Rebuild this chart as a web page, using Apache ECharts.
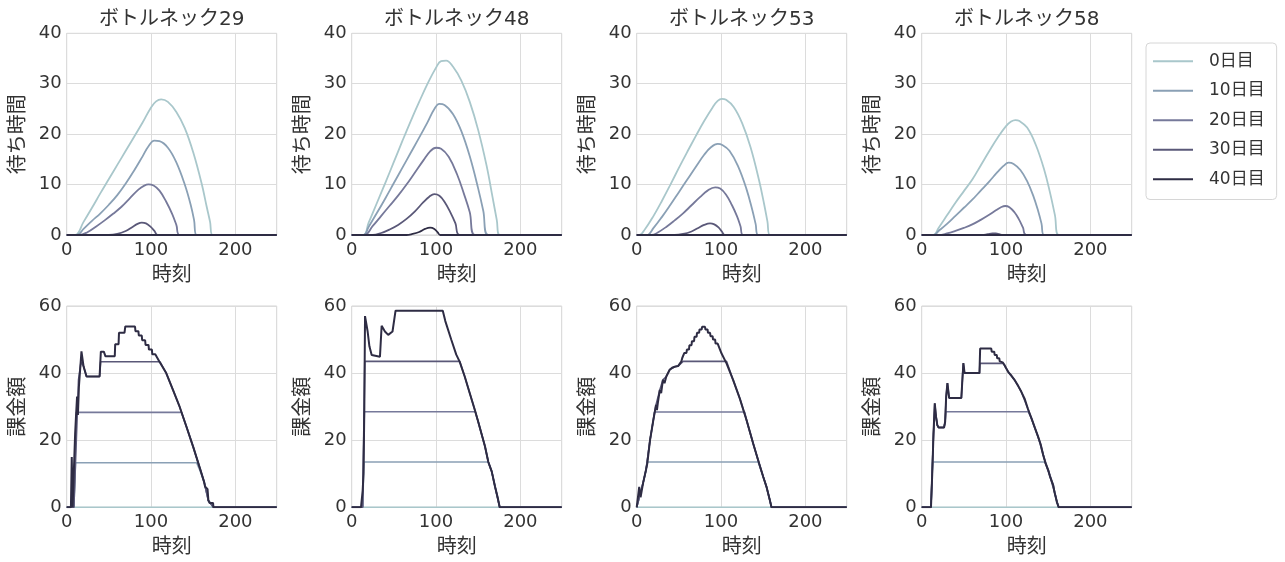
<!DOCTYPE html>
<html><head><meta charset="utf-8">
<script src="https://cdn.jsdelivr.net/npm/echarts@6/dist/echarts.min.js"></script>
<style>html,body{margin:0;padding:0;background:#fff}#c{width:1285px;height:562px}</style>
</head><body><div id="c"></div>
<script>
// ---------- labels ----------
const bottlenecks = ['ボトルネック29', 'ボトルネック48', 'ボトルネック53', 'ボトルネック58'];
const days = ['0日目', '10日目', '20日目', '30日目', '40日目'];
const xName = '時刻';
const waitName = '待ち時間';
const chargeName = '課金額';
const xMax = 249, xStep = 100;
const waitMax = 40, waitStep = 10;
const chargeMax = 60, chargeStep = 20;

// ---------- waiting time [time, value] ----------
const wait29_d0 = [[0,0],[10,0],[20,2.6],[30,5.4],[40,8.3],[50,11.1],[60,13.9],[70,16.7],[80,19.5],[90,22.3],[100,25.3],[106,26.5],[112,26.9],[120,26.4],[130,24.4],[140,21.2],[150,16.4],[160,10.2],[166,5.6],[170,2.6],[173,0],[249,0]];
const wait29_d10 = [[0,0],[12,0],[20,1.2],[30,2.8],[40,4.3],[50,6.0],[60,7.9],[70,10.2],[80,12.8],[90,15.6],[97,17.6],[104,18.7],[110,18.6],[120,17.3],[130,14.4],[140,10.0],[147,6.0],[151,3.0],[154,0],[249,0]];
const wait29_d20 = [[0,0],[15,0],[25,0.6],[35,1.7],[45,2.9],[55,4.2],[65,5.6],[75,7.3],[85,9.0],[92,9.8],[97,10.05],[103,9.8],[110,8.8],[118,6.6],[125,4.2],[130,2.0],[134,0],[249,0]];
const wait29_d30 = [[0,0],[50,0],[60,0.2],[70,0.8],[78,1.6],[84,2.2],[89,2.45],[94,2.3],[99,1.7],[104,0.8],[108,0],[249,0]];
const wait29_d40 = [[0,0],[249,0]];

const wait48_d0 = [[0,0],[14,0],[20,2.4],[30,6.4],[40,10.4],[50,14.5],[60,18.6],[70,22.6],[80,26.4],[90,30.0],[100,33.2],[106,34.5],[112,34.6],[120,33.4],[130,30.6],[140,26.4],[150,20.8],[160,13.7],[167,7.5],[172,3.0],[175.5,0],[249,0]];
const wait48_d10 = [[0,0],[14,0],[20,1.6],[30,4.4],[40,7.3],[50,10.3],[60,13.3],[70,16.3],[80,19.3],[90,22.4],[98,25.0],[104,26.0],[110,25.8],[120,24.0],[130,20.6],[140,15.6],[150,9.2],[156,4.8],[161.7,0],[249,0]];
const wait48_d20 = [[0,0],[15,0],[25,1.8],[35,3.8],[45,5.8],[55,7.8],[65,10.0],[75,12.4],[85,14.8],[93,16.6],[100,17.3],[106,17.1],[115,15.5],[125,12.0],[133,8.2],[140,4.5],[146,0],[249,0]];
const wait48_d30 = [[0,0],[25,0],[35,0.4],[45,1.1],[55,2.0],[65,3.2],[75,4.7],[85,6.5],[92,7.6],[98,8.1],[104,7.8],[110,6.6],[117,4.5],[123,2.3],[128,0],[249,0]];
const wait48_d40 = [[0,0],[65,0],[72,0.2],[80,0.6],[87,1.2],[93,1.45],[98,1.2],[102,0.5],[105,0],[249,0]];

const wait53_d0 = [[0,0],[3,0],[10,1.2],[20,3.8],[30,6.8],[40,10.0],[50,13.3],[60,16.5],[70,19.6],[80,22.6],[90,25.3],[96,26.6],[101,27.0],[106,26.8],[115,25.4],[125,22.2],[135,17.4],[145,10.9],[151,6.2],[155,2.7],[158,0],[249,0]];
const wait53_d10 = [[0,0],[12,0],[20,1.4],[30,3.6],[40,6.0],[50,8.5],[60,11.0],[70,13.5],[80,15.9],[88,17.4],[96,18.06],[102,17.8],[110,16.7],[120,13.7],[130,9.2],[137,5.0],[141,2.2],[144,0],[249,0]];
const wait53_d20 = [[0,0],[18,0],[25,0.5],[35,1.6],[45,2.9],[55,4.3],[65,5.9],[75,7.5],[84,8.8],[93,9.46],[99,9.2],[106,8.0],[113,5.9],[119,3.7],[123,1.8],[126.3,0],[249,0]];
const wait53_d30 = [[0,0],[45,0],[55,0.2],[65,0.7],[73,1.4],[80,2.0],[87,2.3],[92,2.1],[97,1.5],[101,0.7],[104.5,0],[249,0]];
const wait53_d40 = [[0,0],[249,0]];

const wait58_d0 = [[0,0],[14,0],[20,1.4],[30,3.9],[40,6.4],[50,8.7],[60,11.0],[70,13.8],[80,16.6],[90,19.3],[100,21.6],[106,22.5],[111,22.8],[116,22.6],[125,21.3],[135,18.0],[145,13.1],[152,8.5],[158,3.9],[162.5,0],[249,0]];
const wait58_d10 = [[0,0],[14,0],[20,0.8],[30,2.2],[40,3.8],[50,5.4],[60,7.0],[70,8.8],[80,10.6],[90,12.5],[97,13.7],[103,14.35],[109,14.1],[117,12.9],[125,10.7],[132,7.9],[138,4.8],[142,2.3],[145,0],[249,0]];
const wait58_d20 = [[0,0],[20,0],[30,0.3],[40,0.8],[50,1.4],[60,2.1],[70,3.0],[80,4.0],[88,4.9],[94,5.5],[99,5.75],[104,5.5],[110,4.5],[115,3.2],[120,1.5],[124,0],[249,0]];
const wait58_d30 = [[0,0],[72,0],[78,0.15],[84,0.3],[88,0.3],[92,0.15],[96,0],[249,0]];
const wait58_d40 = [[0,0],[249,0]];

// ---------- charge [time, value] ----------
const charge29_d0 = [[0,0],[249,0]];
const charge29_d10 = [[0,0],[8.5,0],[10.5,13.3],[154,13.3],[158,11],[163,7.5],[168,2],[174,0],[249,0]];
const charge29_d20 = [[0,0],[8.5,0],[11.5,28.3],[136,28.3],[142,24],[150,18],[158,11.6],[163,7.5],[168,2],[174,0],[249,0]];
const charge29_d30 = [[0,0],[8.5,0],[14,38],[17,43.4],[20,42],[23.5,39],[39,39],[40.2,43.4],[110.5,43.4],[118,40],[126,35],[134,29.9],[142,24],[150,18],[158,11.6],[163,7.5],[168,2],[174,0],[249,0]];
const charge29_d40 = [[0,0],[5,0],[6,15],[7,0],[8.5,0],[10,22],[11,27],[12.3,33],[13.3,27.5],[14.5,36],[17.5,46.5],[20,42],[23.5,39],[39,39],[40.5,46.4],[44,46.4],[46,45],[57,45],[57.5,48.6],[61.5,48.6],[62,52],[68.5,52],[69.5,53.9],[81,53.9],[81.5,52.5],[85,52.5],[85.5,51.2],[89,51.2],[89.5,49.8],[93,49.8],[93.5,48.4],[97,48.4],[97.5,47],[101,47],[101.5,45.6],[105,45.6],[110,43.4],[118,40],[126,35],[134,29.9],[142,24],[150,18],[158,11.6],[163,7.5],[164,6.2],[167,5.4],[168,2],[169.5,1.3],[173.5,1.3],[174,0],[249,0]];

const charge48_d0 = [[0,0],[249,0]];
const charge48_d10 = [[0,0],[13,0],[14.5,13.5],[161.7,13.5],[166,10.7],[170,6.1],[173,3],[175.5,0],[249,0]];
const charge48_d20 = [[0,0],[13,0],[15,28.5],[146.5,28.5],[150,25.5],[158,18.2],[162,13.5],[166,10.7],[170,6.1],[175.5,0],[249,0]];
const charge48_d30 = [[0,0],[13,0],[15.5,43.5],[128,43.5],[134,39],[140,34],[146,29],[150,25.5],[158,18.2],[162,13.5],[166,10.7],[170,6.1],[175.5,0],[249,0]];
const charge48_d40 = [[0,0],[11,0],[13,5],[14,10],[15,30],[15.8,57],[18.9,52.4],[21,48],[23.7,45.4],[24.5,44.9],[33.5,44.9],[35.5,54.1],[37,53.8],[39.4,52.4],[41,52.8],[43.3,51.4],[45.2,50.9],[48.4,52.4],[50.4,52.8],[52,58.6],[108,58.6],[111,55.5],[118,50],[124,45.5],[128,43.4],[134,39],[140,34],[146,29],[150,25.5],[158,18.2],[162,13.5],[166,10.7],[170,6.1],[173,3],[175.5,0],[249,0]];

const charge53_d0 = [[0,0],[249,0]];
const charge53_d10 = [[0,0],[2,0],[7.8,7.5],[11,11.1],[12.8,13.5],[144,13.5],[150,9.1],[153.9,6.1],[157.9,2.1],[159.8,0],[249,0]];
const charge53_d20 = [[0,0],[2,0],[7.8,7.5],[11,11.1],[15.8,20],[19.7,26],[21,28.4],[128,28.4],[130.2,26],[138.1,19],[144,14],[150,9.1],[153.9,6.1],[157.9,2.1],[159.8,0],[249,0]];
const charge53_d30 = [[0,0],[2,0],[7.8,7.5],[11,11.1],[15.8,20],[19.7,26],[22.9,30.5],[27.4,35],[31.1,38],[35.1,39],[39.1,41],[45,41.9],[49,42.1],[55,43.5],[106.5,43.5],[114.4,37.9],[122.3,32.4],[130.2,26],[138.1,19],[144,14],[150,9.1],[153.9,6.1],[157.9,2.1],[159.8,0],[249,0]];
const charge53_d40 = [[0,0],[2,0],[3,6.1],[4.6,3],[6,5],[7.8,7.5],[11,11.1],[12.6,13.1],[15.8,20],[19.7,26],[22.9,30.5],[24,29],[25,31],[27.4,35],[29,34],[31.1,38],[33,37],[35.1,39],[37,39],[39.1,41],[41,40.5],[42,41.6],[45,41.9],[49,42.1],[53,43.5],[54,44.5],[56,44.5],[56.5,46],[59,46],[59.5,47],[62,47],[62.5,48.3],[65,48.3],[65.5,49.5],[68,49.5],[68.5,50.8],[71,50.8],[71.5,52],[74,52],[74.5,53],[77,53],[77.5,53.8],[81,53.8],[81.5,53],[84,53],[84.5,52],[87,52],[87.5,51],[90,51],[90.5,50],[93,50],[93.5,48.8],[96,48.8],[100.5,45.9],[106.5,42.9],[114.4,37.9],[122.3,32.4],[130.2,26],[138.1,19],[144,14],[150,9.1],[153.9,6.1],[157.9,2.1],[159.8,0],[249,0]];

const charge58_d0 = [[0,0],[249,0]];
const charge58_d10 = [[0,0],[11,0],[13,13.5],[146,13.5],[150,11.1],[152,9.3],[155.9,6.6],[157.5,4.5],[159.8,2.2],[162.5,0],[249,0]];
const charge58_d20 = [[0,0],[11,0],[14,22],[15.5,28.5],[17,27],[18.5,24.5],[20,23.8],[26.5,23.8],[27.8,25.5],[28.6,28.5],[126.2,28.5],[130.2,26.5],[134,23.8],[138.1,21],[144,15.6],[150,11.1],[155.9,6.6],[159.8,2.2],[162.5,0],[249,0]];
const charge58_d30 = [[0,0],[11,0],[14,22],[15.5,31],[17,27],[18.5,24.5],[20,23.8],[26.5,23.8],[27.8,25.5],[29,33],[30.5,37],[32.5,32.6],[47,32.6],[48,37],[49.2,42.9],[49.5,42.9],[50.8,40],[68.5,40],[69,42.9],[96.6,42.9],[100,41.5],[103,40.2],[110,38],[118,34.5],[126,29.3],[134,23.8],[141,18.8],[147,13],[152,9.3],[157.5,4.5],[160.3,1.5],[162.5,0],[249,0]];
const charge58_d40 = [[0,0],[11,0],[12.5,10],[14,22],[15.5,31],[17,27],[18.5,24.5],[20,23.8],[26.5,23.8],[27.8,25.5],[29,33],[30.5,37],[32.5,32.6],[47,32.6],[48,37],[49.5,43],[50.8,40],[68.5,40],[69.3,47.3],[82.5,47.3],[83,46.4],[86,46.4],[86.5,45.4],[89,45.4],[89.5,44.4],[92,44.4],[92.5,43.5],[96,43.2],[98,42.5],[100,41.5],[103,40.2],[106.5,39.2],[110,38],[114.4,36.2],[118,34.5],[122.3,32.2],[126,29.3],[130.2,26.5],[134,23.8],[138.1,21],[141,18.8],[144,15.6],[147,13],[150,11.1],[152,9.3],[155.9,6.6],[157.5,4.5],[159.8,2.2],[160.3,1.5],[162,1.5],[162.5,0],[249,0]];

const waitSets = [
  [wait29_d0, wait29_d10, wait29_d20, wait29_d30, wait29_d40],
  [wait48_d0, wait48_d10, wait48_d20, wait48_d30, wait48_d40],
  [wait53_d0, wait53_d10, wait53_d20, wait53_d30, wait53_d40],
  [wait58_d0, wait58_d10, wait58_d20, wait58_d30, wait58_d40]
];
const chargeSets = [
  [charge29_d0, charge29_d10, charge29_d20, charge29_d30, charge29_d40],
  [charge48_d0, charge48_d10, charge48_d20, charge48_d30, charge48_d40],
  [charge53_d0, charge53_d10, charge53_d20, charge53_d30, charge53_d40],
  [charge58_d0, charge58_d10, charge58_d20, charge58_d30, charge58_d40]
];

// ---------- styling ----------
const FONT = "'DejaVu Sans', 'Noto Sans CJK JP'";
const JFONT = "'Noto Sans CJK JP'";
const TXT = '#333333';
const colors = ['#a9c7cb', '#8aa0b5', '#76799a', '#5a5878', '#2e2c44'];
const lefts = [66.7, 351.7, 636.7, 921.7];
const W = 210;
const topRow = { top: 33.3, height: 201.7 };
const botRow = { top: 306, height: 201.3 };

const grid = [], xAxis = [], yAxis = [], series = [], title = [];

function addPanel(idx, left, row, yMax, yStep, yName) {
  grid.push({ left: left, top: row.top, width: W, height: row.height, show: true,
    borderColor: '#d4d4d4', borderWidth: 1, backgroundColor: 'transparent' });
  xAxis.push({ type: 'value', gridIndex: idx, min: 0, max: xMax, interval: xStep,
    name: xName, nameLocation: 'middle', nameGap: 28,
    nameTextStyle: { fontFamily: JFONT, fontSize: 20, color: TXT },
    axisLine: { show: false }, axisTick: { show: false },
    axisLabel: { fontFamily: FONT, fontSize: 18, color: TXT, margin: 6, showMaxLabel: false },
    splitLine: { show: true, lineStyle: { color: '#dcdcdc', width: 1 } } });
  yAxis.push({ type: 'value', gridIndex: idx, min: 0, max: yMax, interval: yStep,
    name: yName, nameLocation: 'middle', nameGap: 40, nameRotate: 90,
    nameTextStyle: { fontFamily: JFONT, fontSize: 20, color: TXT },
    axisLine: { show: false }, axisTick: { show: false },
    axisLabel: { fontFamily: FONT, fontSize: 18, color: TXT, margin: 5 },
    splitLine: { show: true, lineStyle: { color: '#dcdcdc', width: 1 } } });
}

for (let c = 0; c < 4; c++) {
  addPanel(c, lefts[c], topRow, waitMax, waitStep, waitName);
  title.push({ text: bottlenecks[c], left: lefts[c] + W / 2, top: 10, textAlign: 'center', padding: 0,
    textStyle: { fontFamily: FONT, fontSize: 20, fontWeight: 'normal', color: TXT } });
}
for (let c = 0; c < 4; c++) {
  addPanel(4 + c, lefts[c], botRow, chargeMax, chargeStep, chargeName);
}

for (let c = 0; c < 4; c++) {
  for (let d = 0; d < 5; d++) {
    series.push({ type: 'line', name: days[d], xAxisIndex: c, yAxisIndex: c,
      data: waitSets[c][d], symbol: 'none', showSymbol: false, smooth: 0.4, z: 2 + d,
      lineStyle: { color: colors[d], width: 1.8 }, itemStyle: { color: colors[d] } });
  }
  for (let d = 0; d < 5; d++) {
    series.push({ type: 'line', name: days[d], xAxisIndex: 4 + c, yAxisIndex: 4 + c,
      data: chargeSets[c][d], symbol: 'none', showSymbol: false, z: 2 + d,
      lineStyle: { color: colors[d], width: d === 4 ? 2 : 1.6 }, itemStyle: { color: colors[d] } });
  }
}

const chart = echarts.init(document.getElementById('c'), null, { renderer: 'canvas' });
chart.setOption({
  animation: false,
  backgroundColor: '#ffffff',
  title: title,
  grid: grid,
  xAxis: xAxis,
  yAxis: yAxis,
  legend: { data: days.map(function (n, i) { return { name: n, icon: 'rect', itemStyle: { color: colors[i] } }; }),
    orient: 'vertical', left: 1146, top: 43,
    padding: [9, 12, 11, 7], itemGap: 11, itemWidth: 40, itemHeight: 2,
    borderColor: '#d6d6d6', borderWidth: 1, borderRadius: 4,
    textStyle: { fontFamily: FONT, fontSize: 17, color: TXT, padding: [0, 0, 0, 11], lineHeight: 18.5 } },
  series: series
});
</script>
</body></html>
